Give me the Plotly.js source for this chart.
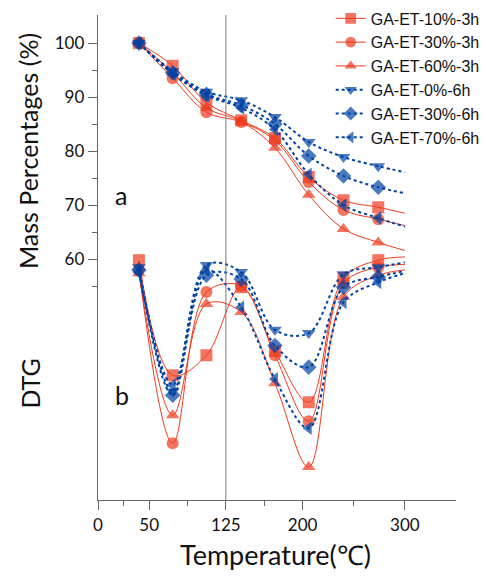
<!DOCTYPE html>
<html>
<head>
<meta charset="utf-8">
<script src="https://cdn.plot.ly/plotly-3.0.1.min.js"></script>
<style>html,body{margin:0;padding:0;background:#fff;}#chart{width:486px;height:577px;}</style>
</head>
<body>
<div id="chart"></div>
<script>
// Temperatures (°C) of the data points; last point ends the curve (no marker)
const temps = [40, 73, 106, 140, 173, 206, 240, 274, 300];

const seriesNames = ["GA-ET-10%-3h", "GA-ET-30%-3h", "GA-ET-60%-3h", "GA-ET-0%-6h", "GA-ET-30%-6h", "GA-ET-70%-6h"];

// TG curves: mass percentages (%)
const tg_10_3h = [100, 95.8, 89.0, 85.7, 82.4, 75.2, 70.9, 69.6, 68.5];
const tg_30_3h = [100, 93.5, 87.2, 85.4, 82.0, 74.3, 69.1, 67.4, 66.2];
const tg_60_3h = [100, 94.5, 88.0, 85.5, 80.6, 71.9, 65.6, 63.1, 61.6];
const tg_0_6h  = [100, 94.8, 91.0, 89.4, 86.3, 81.7, 78.9, 77.2, 76.1];
const tg_30_6h = [100, 94.5, 90.5, 88.5, 85.0, 79.1, 75.4, 73.3, 72.2];
const tg_70_6h = [100, 94.3, 90.3, 88.0, 84.0, 75.7, 70.0, 67.6, 66.0];

// DTG curves (plotted on the same scale, arbitrary units)
const dtg_10_3h = [59.8, 38.5, 42.2, 54.8, 43.0, 33.5, 56.5, 59.8, 60.4];
const dtg_30_3h = [58.0, 25.9, 53.9, 55.0, 42.2, 30.0, 55.5, 58.5, 59.0];
const dtg_60_3h = [57.4, 31.1, 51.7, 50.2, 37.0, 21.5, 53.0, 57.0, 58.0];
const dtg_0_6h  = [58.5, 35.5, 58.9, 57.6, 46.9, 46.3, 57.2, 58.5, 59.4];
const dtg_30_6h = [58.0, 34.8, 57.0, 56.3, 44.0, 40.0, 54.8, 56.7, 57.8];
const dtg_70_6h = [57.5, 36.7, 58.0, 51.1, 37.8, 28.7, 52.0, 55.7, 57.4];

const xTickVals = [0, 50, 125, 200, 300];
const xMinorVals = [25, 87.5, 162.5, 250];
const yTickVals = [60, 70, 80, 90, 100];
const yMinorVals = [55, 65, 75, 85, 95];

const tgData = [tg_10_3h, tg_30_3h, tg_60_3h, tg_0_6h, tg_30_6h, tg_70_6h];
const dtgData = [dtg_10_3h, dtg_30_3h, dtg_60_3h, dtg_0_6h, dtg_30_6h, dtg_70_6h];

const RED = '#EE3A1E';
const BLUE = '#0042A4';
const styles = [
  {color: RED, symbol: 'square', dash: 'solid', width: 1},
  {color: RED, symbol: 'circle', dash: 'solid', width: 1},
  {color: RED, symbol: 'triangle-up', dash: 'solid', width: 1},
  {color: BLUE, symbol: 'triangle-down', dash: 'dot', width: 2},
  {color: BLUE, symbol: 'diamond', dash: 'dot', width: 2},
  {color: BLUE, symbol: 'triangle-left', dash: 'dot', width: 2}
];
const msize = temps.map((t, i) => i === temps.length - 1 ? 0 : 12);

const traces = [];
seriesNames.forEach((name, i) => {
  const s = styles[i];
  traces.push({
    x: temps, y: tgData[i], name: name,
    mode: 'lines+markers', type: 'scatter',
    line: {color: s.color, width: s.width, dash: s.dash, shape: 'spline', smoothing: 1},
    marker: {symbol: s.symbol, size: msize, color: s.color, line: {width: 0}}
  });
});
seriesNames.forEach((name, i) => {
  const s = styles[i];
  traces.push({
    x: temps, y: dtgData[i], name: name, showlegend: false,
    mode: 'lines+markers', type: 'scatter',
    line: {color: s.color, width: s.width, dash: s.dash, shape: 'spline', smoothing: 1},
    marker: {symbol: s.symbol, size: msize, color: s.color, line: {width: 0}}
  });
});

const tickFont = {family: 'Lato, "Open Sans", sans-serif', size: 17, color: '#111'};
const titleFont = {family: 'Lato, sans-serif', size: 25, color: '#111'};
const layout = {
  width: 486, height: 577,
  margin: {l: 98, r: 30, t: 15, b: 77, autoexpand: false},
  paper_bgcolor: '#fff', plot_bgcolor: '#fff',
  showlegend: true,
  legend: {x: 0.65, y: 1.028, xanchor: 'left', yanchor: 'top', bgcolor: 'rgba(0,0,0,0)',
    tracegroupgap: 0,
    font: {family: '"Liberation Sans", Arial, sans-serif', size: 16, color: '#111'}},
  xaxis: {range: [0, 350], tickmode: 'array', tickvals: xTickVals, ticks: 'outside', ticklen: 9,
    tickcolor: '#666', showline: true, linecolor: '#666', linewidth: 1.3, showgrid: false, zeroline: false,
    tickfont: tickFont,
    minor: {tickmode: 'array', tickvals: xMinorVals, ticks: 'outside', ticklen: 5, tickcolor: '#666', showgrid: false}},
  yaxis: {range: [15.4, 105.2], tickmode: 'array', tickvals: yTickVals, ticks: 'outside', ticklen: 9,
    tickcolor: '#666', showline: true, linecolor: '#666', linewidth: 1.3, showgrid: false, zeroline: false,
    tickfont: tickFont,
    minor: {tickmode: 'array', tickvals: yMinorVals, ticks: 'outside', ticklen: 5, tickcolor: '#666', showgrid: false}},
  shapes: [{type: 'line', xref: 'x', yref: 'paper', x0: 125, x1: 125, y0: 0, y1: 1,
    line: {color: '#777', width: 1}}],
  annotations: [
    {text: 'Mass Percentages (%)', xref: 'paper', yref: 'paper', x: -0.195, y: 0.72, textangle: -90,
      xanchor: 'center', yanchor: 'middle', showarrow: false, font: titleFont},
    {text: 'DTG', xref: 'paper', yref: 'paper', x: -0.19, y: 0.24, textangle: -90,
      xanchor: 'center', yanchor: 'middle', showarrow: false, font: titleFont},
    {text: 'a', xref: 'paper', yref: 'paper', x: 0.064, y: 0.629,
      xanchor: 'center', yanchor: 'middle', showarrow: false, font: {family: 'Lato, sans-serif', size: 25, color: '#111'}},
    {text: 'b', xref: 'paper', yref: 'paper', x: 0.067, y: 0.216,
      xanchor: 'center', yanchor: 'middle', showarrow: false, font: {family: 'Lato, sans-serif', size: 25, color: '#111'}},
    {text: 'Temperature(℃)', xref: 'paper', yref: 'paper', x: 0.497, y: -0.113,
      xanchor: 'center', yanchor: 'middle', showarrow: false, font: {family: 'Lato, sans-serif', size: 27, color: '#111'}}
  ]
};

Plotly.newPlot('chart', traces, layout, {displayModeBar: false, staticPlot: true});
</script>
</body>
</html>
